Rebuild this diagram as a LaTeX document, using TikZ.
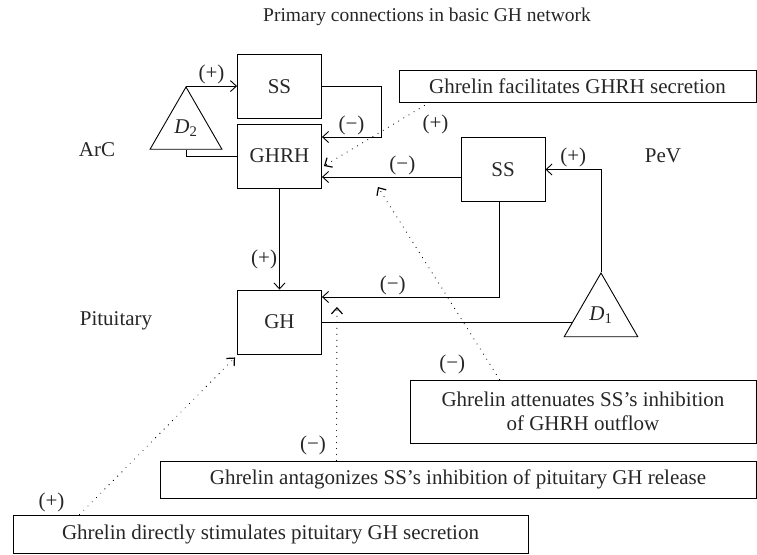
\documentclass[tikz,border=0pt]{standalone}
\usepackage{fontspec}
\setmainfont{Liberation Serif}
\usetikzlibrary{shapes.geometric}
\usetikzlibrary{arrows.meta}

\begin{document}
\begin{tikzpicture}[font=\fontsize{21}{23.5}\selectfont,inner sep=2pt,line width=0.9pt,every node/.append style={text=schrift},>={Straight Barb[length=6pt,width=11pt]}]
\colorlet{schrift}{black!85}
\tikzstyle{kasten}=[draw,rectangle,minimum width=84pt,minimum height=64pt]
\tikzstyle{dreieck}=[draw,regular polygon,regular polygon sides=3,inner sep=0pt]
\tikzstyle{hinweis}=[draw,rectangle,align=center]
\tikzstyle{pf}=[->]
\tikzstyle{punktiert}=[->,line width=1.2pt,dash pattern=on 0.01pt off 6pt,line cap=round]

\node[kasten] (GHRH) {GHRH};
\useasboundingbox (-279.5pt,156pt) rectangle (477.5pt,-398pt); % Rand wie im Original
\node[kasten,node distance=69.5pt,above of=GHRH] (SSa) {SS};
\node[kasten,node distance=166pt,below of=GHRH] (GH) {GH};
\node[kasten,node distance=223.5pt,right of=GHRH,yshift=-13.5pt] (SSp) {SS};
\node[dreieck,minimum size=83pt,node distance=93.5pt,left of=GHRH,yshift=27.5pt] (D2) {\textit{D}\textsubscript{2}};
\node[dreieck,minimum size=85pt,node distance=321.5pt,right of=GH,yshift=6.5pt] (D1) {\textit{D}\textsubscript{1}};

\node[node distance=182.5pt,left of=GHRH,yshift=6pt] (ArC) {ArC};
\node[node distance=160pt,right of=SSp,yshift=13.5pt] (PeV) {PeV};
\node[node distance=163.5pt,left of=GH,yshift=1pt] (Pit) {Pituitary};
\node[font=\fontsize{19.5}{22}\selectfont,node distance=69.5pt,above of=SSa,xshift=147.5pt] (titel) {Primary connections in basic GH network};

\node[hinweis,minimum width=357pt,minimum height=32pt,node distance=298pt,right of=SSa,yshift=0.5pt] (fac) {Ghrelin facilitates GHRH secretion};
\node[hinweis,minimum width=346pt,minimum height=63pt,node distance=96pt,below of=D1,xshift=-18pt] (att) {Ghrelin attenuates SS’s inhibition\\of GHRH outflow};
\node[hinweis,minimum width=596pt,minimum height=37pt,node distance=157.5pt,below of=GH,xshift=178.5pt] (ant) {Ghrelin antagonizes SS’s inhibition of pituitary GH release};
\node[hinweis,minimum width=515pt,minimum height=38pt,node distance=212pt,below of=GH,xshift=-9pt] (stim) {Ghrelin directly stimulates pituitary GH secretion};

% Verbindungen
\draw[pf] (D2.corner 1) -- node[above] {(+)} (D2.corner 1 -| SSa.west);
\draw (GHRH.west) -| (D2.side 2);
\draw[pf] (SSa.east) -- ++(59pt,0) |- node[pos=0.75,above] {(−)} ([yshift=19pt]GHRH.east);
\draw[pf] ([yshift=-7.5pt]SSp.west) -- node[pos=0.42,above] {(−)} ([yshift=-7.5pt]SSp.west -| GHRH.east);
\draw[pf] (D1.corner 1) |- node[pos=0.75,above] {(+)} (SSp.east);
\draw[pf] (GHRH) -- node[left,pos=0.7] {(+)} (GH);
\draw[pf] ([xshift=-4pt]SSp.south) |- node[pos=0.8,above] {(−)} ([yshift=25pt]GH.east);
\draw (D1.194) -- (D1.194 -| GH.east);

% Ghrelin-Wirkungen
\draw[punktiert] ([xshift=31pt]fac.south west) -- node[pos=0,below,xshift=6pt,yshift=-10pt] {(+)} ([xshift=2pt,yshift=-10pt]GHRH.east);
\draw[punktiert] ([xshift=90pt]att.north west) -- node[pos=0.08,left=22pt] {(−)} ([xshift=56pt,yshift=-31pt]GHRH.east);
\draw[punktiert] ([xshift=177pt]ant.north west) -- node[pos=0.1,left=8pt] {(−)} ([xshift=15pt,yshift=15pt]GH.east);
\draw[punktiert] ([xshift=67pt]stim.north west) -- node[pos=0.08,left=25pt] {(+)} ([xshift=-2pt,yshift=-3pt]GH.south west);
\end{tikzpicture}
\end{document}
